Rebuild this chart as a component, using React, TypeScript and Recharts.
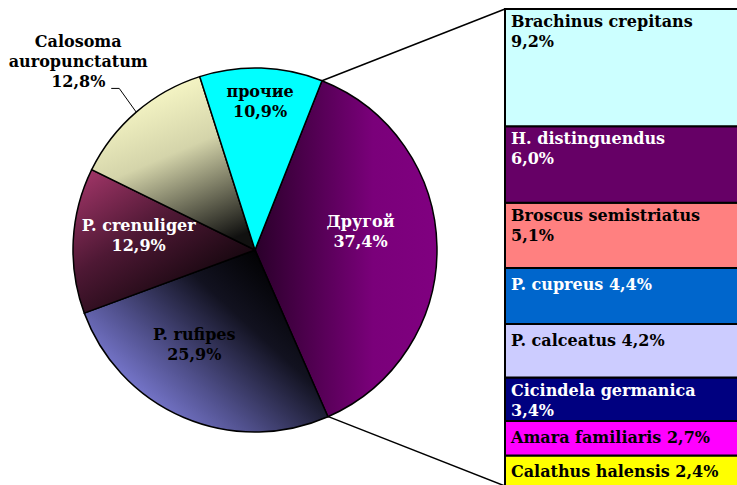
import { PieChart, Pie, Cell, BarChart, Bar, XAxis, YAxis } from 'recharts';

const sliceNames = ['Другой', 'P. rufipes', 'P. crenuliger', 'Calosoma auropunctatum', 'прочие'];
const sliceValues = [37.4, 25.9, 12.9, 12.8, 10.9];
const sliceLabels = ['37,4%', '25,9%', '12,9%', '12,8%', '10,9%'];

const barNames = [
  'Brachinus crepitans',
  'H. distinguendus',
  'Broscus semistriatus',
  'P. cupreus',
  'P. calceatus',
  'Cicindela germanica',
  'Amara familiaris',
  'Calathus halensis',
];
const barValues = [9.2, 6.0, 5.1, 4.4, 4.2, 3.4, 2.7, 2.4];
const barLabels = ['9,2%', '6,0%', '5,1%', '4,4%', '4,2%', '3,4%', '2,7%', '2,4%'];

const barColors = ['#ccffff', '#660066', '#ff8080', '#0066cc', '#ccccff', '#000080', '#ff00ff', '#ffff00'];
const barText = ['#000', '#fff', '#000', '#fff', '#000', '#fff', '#000', '#000'];
const barWrap = [true, true, true, false, false, true, false, false];

const sliceFills = ['url(#gOther)', 'url(#gRufipes)', 'url(#gCren)', 'url(#gCalo)', '#00ffff'];
const sliceText = ['#fff', '#000', '#fff', '#000', '#000'];

const FONT = '"DejaVu Serif", serif';
const FS = 16;
const W = 737;
const H = 485;
const CX = 255;
const CY = 250;
const R = 182;
const START = 68.4;
const BAR_LEFT = 505;
const BAR_TOP = 9;
const BAR_H = 477;

const pieData = sliceNames.map((name, i) => ({ name, value: sliceValues[i], label: sliceLabels[i] }));
const barRow: Record<string, number | string> = { name: 'Другой' };
barNames.forEach((n, i) => (barRow[n] = barValues[i]));
const barData = [barRow];
const total = barValues.reduce((a, b) => a + b, 0);

const RAD = Math.PI / 180;
const labelRadius = [0.58, 0.6, 0.64, 1, 0.82];
const labelNudge = [
  [0, -18],
  [-18, -7],
  [0, -10],
  [0, 0],
  [0, -1],
];

function renderPieLabel(props: any) {
  const { cx, cy, midAngle, outerRadius, index } = props;
  const cos = Math.cos(-midAngle * RAD);
  const sin = Math.sin(-midAngle * RAD);
  if (index === 3) {
    const sx = cx + outerRadius * cos;
    const sy = cy + outerRadius * sin;
    const ex = cx + (outerRadius + 26) * cos;
    const ey = cy + (outerRadius + 26) * sin - 4;
    const hx = ex - 8;
    return (
      <g key="calo">
        <polyline points={`${sx},${sy} ${ex},${ey} ${hx},${ey}`} fill="none" stroke="#000" strokeWidth={1} />
        <text textAnchor="middle" fontFamily={FONT} fontWeight="bold" fontSize={FS} fill="#000">
          <tspan x={hx - 33} y={ey - 41}>Calosoma</tspan>
          <tspan x={hx - 33} y={ey - 21}>auropunctatum</tspan>
          <tspan x={hx - 33} y={ey - 1}>{sliceLabels[3]}</tspan>
        </text>
      </g>
    );
  }
  const rr = outerRadius * labelRadius[index];
  const px = cx + rr * cos + labelNudge[index][0];
  const py = cy + rr * sin + labelNudge[index][1];
  return (
    <text key={index} textAnchor="middle" fontFamily={FONT} fontWeight="bold" fontSize={FS} fill={sliceText[index]}>
      <tspan x={px} y={py - 3}>{sliceNames[index]}</tspan>
      <tspan x={px} y={py + 17}>{sliceLabels[index]}</tspan>
    </text>
  );
}

function makeBarLabel(i: number) {
  return (props: any) => {
    const { x, y } = props;
    const tx = x + 6;
    if (barWrap[i]) {
      return (
        <text fontFamily={FONT} fontWeight="bold" fontSize={FS} fill={barText[i]}>
          <tspan x={tx} y={y + 18}>{barNames[i]}</tspan>
          <tspan x={tx} y={y + 38}>{barLabels[i]}</tspan>
        </text>
      );
    }
    return (
      <text x={tx} y={y + 22} fontFamily={FONT} fontWeight="bold" fontSize={FS} fill={barText[i]}>
        {barNames[i] + ' ' + barLabels[i]}
      </text>
    );
  };
}

export default function App() {
  const a0 = START * RAD;
  const a1 = (START - (sliceValues[0] / 100) * 360) * RAD;
  const p0 = [CX + R * Math.cos(a0), CY - R * Math.sin(a0)];
  const p1 = [CX + R * Math.cos(a1), CY - R * Math.sin(a1)];
  const order = barNames.map((_, i) => i).reverse();

  return (
    <div style={{ position: 'relative', width: W, height: H, overflow: 'hidden', background: '#fff' }}>
      <style>{'body{margin:0}'}</style>
      <div style={{ position: 'absolute', left: 0, top: 0 }}>
        <PieChart width={W} height={H} margin={{ top: 0, right: 0, bottom: 0, left: 0 }}>
          <defs>
            <linearGradient id="gOther" x1="0" y1="0" x2="1" y2="0">
              <stop offset="0" stopColor="#2a002a" />
              <stop offset="0.65" stopColor="#7a007a" />
              <stop offset="1" stopColor="#800080" />
            </linearGradient>
            <linearGradient id="gRufipes" x1="0.1" y1="0.85" x2="0.9" y2="0.2">
              <stop offset="0" stopColor="#8c8cf0" />
              <stop offset="0.35" stopColor="#50508c" />
              <stop offset="0.7" stopColor="#121220" />
              <stop offset="1" stopColor="#000" />
            </linearGradient>
            <linearGradient id="gCren" x1="0" y1="0" x2="0.8" y2="1">
              <stop offset="0" stopColor="#a8386c" />
              <stop offset="0.45" stopColor="#4e1834" />
              <stop offset="1" stopColor="#000" />
            </linearGradient>
            <linearGradient id="gCalo" x1="0.3" y1="0" x2="0.7" y2="1">
              <stop offset="0" stopColor="#ffffcc" />
              <stop offset="0.45" stopColor="#d4d4aa" />
              <stop offset="1" stopColor="#111110" />
            </linearGradient>
          </defs>
          <Pie
            data={pieData}
            dataKey="value"
            nameKey="name"
            cx={CX}
            cy={CY}
            outerRadius={R}
            startAngle={START}
            endAngle={START - 360}
            stroke="#000"
            strokeWidth={1.5}
            label={renderPieLabel}
            labelLine={false}
            isAnimationActive={false}
          >
            {pieData.map((d, i) => (
              <Cell key={d.name} fill={sliceFills[i]} />
            ))}
          </Pie>
        </PieChart>
      </div>
      <svg width={W} height={H} style={{ position: 'absolute', left: 0, top: 0 }}>
        <line x1={p0[0]} y1={p0[1]} x2={BAR_LEFT} y2={BAR_TOP} stroke="#000" strokeWidth={1.5} />
        <line x1={p1[0]} y1={p1[1]} x2={BAR_LEFT} y2={BAR_TOP + BAR_H} stroke="#000" strokeWidth={1.5} />
      </svg>
      <div style={{ position: 'absolute', left: BAR_LEFT - 2, top: BAR_TOP - 2 }}>
        <BarChart
          width={280}
          height={BAR_H + 4}
          data={barData}
          margin={{ top: 2, right: 0, left: 2, bottom: 2 }}
          barCategoryGap={0}
        >
          <XAxis dataKey="name" hide />
          <YAxis hide domain={[0, total]} />
          {order.map((i) => (
            <Bar
              key={barNames[i]}
              dataKey={barNames[i]}
              stackId="a"
              fill={barColors[i]}
              stroke="#000"
              strokeWidth={2}
              label={makeBarLabel(i)}
              isAnimationActive={false}
            />
          ))}
        </BarChart>
      </div>
    </div>
  );
}
